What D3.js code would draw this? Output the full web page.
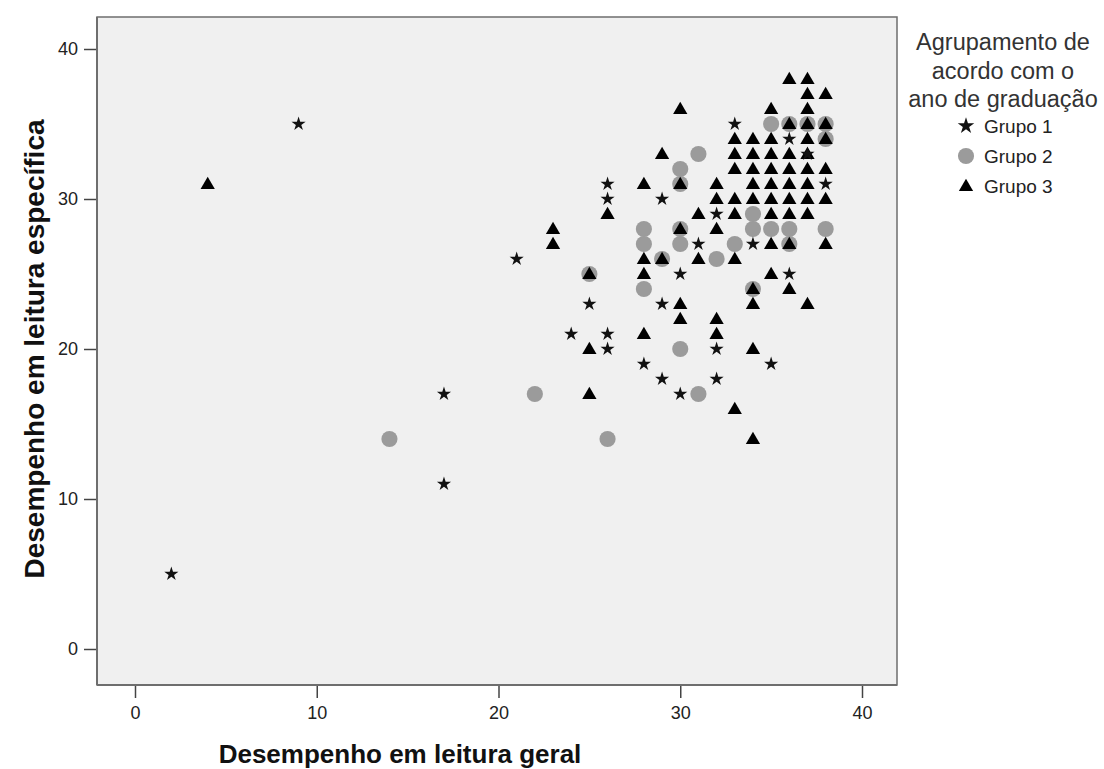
<!DOCTYPE html>
<html>
<head>
<meta charset="utf-8">
<script src="https://cdn.jsdelivr.net/npm/d3@7"></script>
<style>
  body { margin: 0; background: #fff; }
  svg { display: block; font-family: Arial, "Liberation Sans", sans-serif; }
</style>
</head>
<body>
<svg id="chart" width="1104" height="769"></svg>
<script>
// Desempenho em leitura geral (x) vs específica (y), by group
const grupo1 = [[2,5],[9,35],[17,17],[17,11],[21,26],[24,21],[25,23],[26,31],[26,30],[26,21],[26,20],
  [28,19],[29,30],[29,23],[29,18],[30,25],[30,17],[31,27],[32,29],[32,20],[32,18],[33,35],[34,27],
  [35,19],[36,34],[36,25],[37,33],[38,31]];

const grupo2 = [[14,14],[22,17],[25,25],[26,14],[28,28],[28,27],[28,24],[29,26],[30,32],[30,27],[30,20],
  [31,33],[31,17],[32,26],[33,27],[34,29],[34,28],[35,35],[35,28],[36,28],[36,27],[38,28],
  [30,31],[30,28],[36,35],[37,35],[38,35],[38,34],[34,24]];

const grupo3 = [[4,31],[23,28],[23,27],[25,25],[25,20],[25,17],[26,29],[28,31],[28,26],[28,25],[28,21],
  [29,33],[29,26],[30,36],[30,31],[30,28],[30,23],[30,22],[31,29],[31,26],[32,31],[32,30],[32,28],
  [32,22],[32,21],[33,34],[33,33],[33,32],[33,30],[33,29],[33,26],[33,16],[34,34],[34,33],[34,32],
  [34,31],[34,30],[34,24],[34,23],[34,20],[34,14],[35,36],[35,34],[35,33],[35,32],[35,31],[35,30],
  [35,29],[35,27],[35,25],[36,38],[36,35],[36,33],[36,32],[36,31],[36,30],[36,29],[36,27],[36,24],
  [37,38],[37,37],[37,36],[37,35],[37,34],[37,33],[37,32],[37,31],[37,30],[37,29],[37,23],[38,37],
  [38,35],[38,34],[38,32],[38,30],[38,27]];

const xTicks = [0, 10, 20, 30, 40];
const yTicks = [0, 10, 20, 30, 40];
const groupNames = ["Grupo 1", "Grupo 2", "Grupo 3"];
const legendTitle = ["Agrupamento de", "acordo com o", "ano de graduação"];

const svg = d3.select("#chart");

const frame = { left: 97, right: 897, top: 17, bottom: 685 };

const x = d3.scaleLinear().domain([0, 40]).range([135, 862]);
const y = d3.scaleLinear().domain([0, 40]).range([649, 49]);

svg.append("rect")
  .attr("x", frame.left)
  .attr("y", frame.top)
  .attr("width", frame.right - frame.left)
  .attr("height", frame.bottom - frame.top)
  .attr("fill", "#f0f0f0")
  .attr("stroke", "#6e6e6e")
  .attr("stroke-width", 1.5);

// axes
const xAxis = svg.append("g")
  .attr("transform", `translate(0, ${frame.bottom})`)
  .call(d3.axisBottom(x).tickValues(xTicks).tickSize(13).tickPadding(8));

const yAxis = svg.append("g")
  .attr("transform", `translate(${frame.left}, 0)`)
  .call(d3.axisLeft(y).tickValues(yTicks).tickSize(13).tickPadding(6));

[xAxis, yAxis].forEach((g) => {
  g.select(".domain").remove();
  g.selectAll(".tick line").attr("stroke", "#444").attr("stroke-width", 1.5);
  g.selectAll(".tick text")
    .attr("fill", "#222")
    .style("font-size", "18px")
    .style("font-family", "Arial, 'Liberation Sans', sans-serif");
});

svg.append("line")
  .attr("x1", frame.left).attr("x2", frame.right)
  .attr("y1", frame.bottom).attr("y2", frame.bottom)
  .attr("stroke", "#6e6e6e").attr("stroke-width", 2);
svg.append("line")
  .attr("x1", frame.left).attr("x2", frame.left)
  .attr("y1", frame.top).attr("y2", frame.bottom)
  .attr("stroke", "#6e6e6e").attr("stroke-width", 2);

svg.append("text")
  .attr("x", 400)
  .attr("y", 763)
  .attr("text-anchor", "middle")
  .style("font-weight", "bold")
  .style("font-size", "26px")
  .attr("fill", "#111")
  .text("Desempenho em leitura geral");

svg.append("text")
  .attr("transform", `translate(44, 349) rotate(-90)`)
  .attr("text-anchor", "middle")
  .style("font-weight", "bold")
  .style("font-size", "28px")
  .attr("fill", "#111")
  .text("Desempenho em leitura específica");

// markers
const star = d3.symbol().type(d3.symbolStar).size(62);
const circle = d3.symbol().type(d3.symbolCircle).size(205);
const tri = d3.symbol().type(d3.symbolTriangle).size(88);

const pts = svg.append("g");

pts.selectAll(".g2").data(grupo2).enter().append("path")
  .attr("class", "g2")
  .attr("d", circle)
  .attr("transform", (d) => `translate(${x(d[0])}, ${y(d[1])})`)
  .attr("fill", "#9b9b9b");

pts.selectAll(".g3").data(grupo3).enter().append("path")
  .attr("class", "g3")
  .attr("d", tri)
  .attr("transform", (d) => `translate(${x(d[0])}, ${y(d[1]) + 1})`)
  .attr("fill", "#000");

pts.selectAll(".g1").data(grupo1).enter().append("path")
  .attr("class", "g1")
  .attr("d", star)
  .attr("transform", (d) => `translate(${x(d[0])}, ${y(d[1])})`)
  .attr("fill", "#111");

// legend
const legend = svg.append("g");

legend.selectAll(".lt").data(legendTitle).enter().append("text")
  .attr("x", 1003)
  .attr("y", (d, i) => 50 + i * 28.5)
  .attr("text-anchor", "middle")
  .style("font-size", "23.5px")
  .attr("fill", "#333")
  .text((d) => d);

const symbols = [star, circle, tri];
const symFill = ["#111", "#9b9b9b", "#000"];

groupNames.forEach((name, i) => {
  const cy = 126 + i * 30;
  legend.append("path")
    .attr("d", i === 0 ? d3.symbol().type(d3.symbolStar).size(85) : symbols[i])
    .attr("transform", `translate(966, ${i === 2 ? cy + 1 : cy})`)
    .attr("fill", symFill[i]);
  legend.append("text")
    .attr("x", 984)
    .attr("y", cy + 7)
    .style("font-size", "19px")
    .attr("fill", "#222")
    .text(name);
});
</script>
</body>
</html>
